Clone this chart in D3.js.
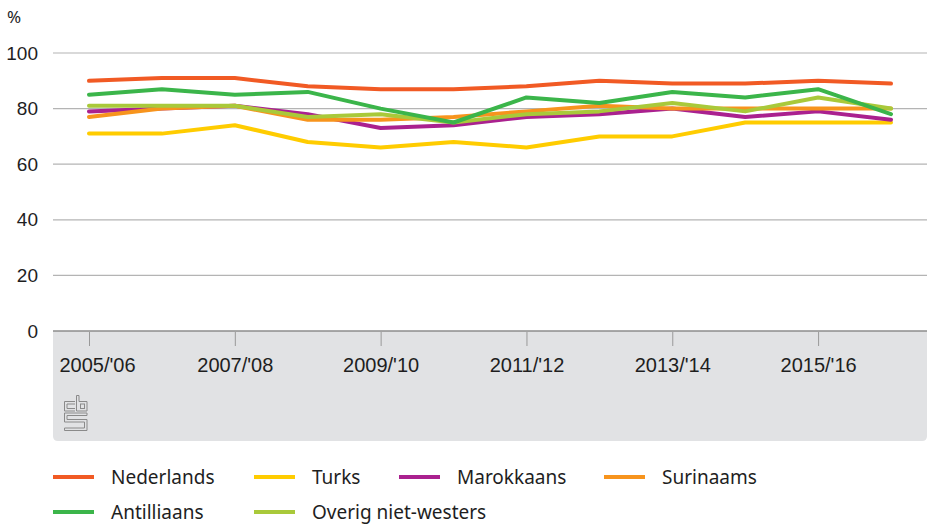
<!DOCTYPE html>
<html>
<head>
<meta charset="utf-8">
<script src="https://cdn.jsdelivr.net/npm/d3@7"></script>
<style>
  body { margin: 0; background: #fff; }
  svg { display: block; font-family: "Noto Sans", sans-serif; }
  .tick text { fill: #1e1e1e; font-size: 19px; }
  .x-axis .tick text { font-size: 20px; }
</style>
</head>
<body>
<div id="chart"></div>
<script>
// schooljaren
const years = ["2005/'06", "2006/'07", "2007/'08", "2008/'09", "2009/'10", "2010/'11",
               "2011/'12", "2012/'13", "2013/'14", "2014/'15", "2015/'16", "2016/'17"];
const xTickLabels = ["2005/'06", "2007/'08", "2009/'10", "2011/'12", "2013/'14", "2015/'16"];
const yTicks = [0, 20, 40, 60, 80, 100];

const seriesNames = ["Nederlands", "Turks", "Marokkaans", "Surinaams", "Antilliaans", "Overig niet-westers"];
const seriesColors = ["#f15a24", "#ffcc00", "#aa218f", "#f7941d", "#3bb54a", "#a9c93a"];

const nederlands  = [90, 91, 91, 88, 87, 87, 88, 90, 89, 89, 90, 89];
const turks       = [71, 71, 74, 68, 66, 68, 66, 70, 70, 75, 75, 75];
const marokkaans  = [79, 80, 81, 78, 73, 74, 77, 78, 80, 77, 79, 76];
const surinaams   = [77, 80, 81, 76, 76, 77, 79, 81, 80, 80, 80, 80];
const antilliaans = [85, 87, 85, 86, 80, 75, 84, 82, 86, 84, 87, 78];
const overig      = [81, 81, 81, 77, 78, 75, 78, 79, 82, 79, 84, 80];

const seriesValues = [nederlands, turks, marokkaans, surinaams, antilliaans, overig];
// drawing order: lime and green on top
const drawOrder = [0, 1, 2, 3, 5, 4];

const width = 928, height = 524;
const plot = { left: 53, right: 927, top: 53, bottom: 331, band: 441 };

const svg = d3.select("#chart")
  .append("svg")
    .attr("width", width)
    .attr("height", height);

const x = d3.scalePoint()
  .domain(years)
  .range([89, 891]);

const y = d3.scaleLinear()
  .domain([0, 100])
  .range([plot.bottom, plot.top]);

// grey band under the x axis, rounded bottom corners
const r = 5;
svg.append("path")
  .attr("fill", "#e1e2e4")
  .attr("d", `M${plot.left},${plot.bottom} H${plot.right} V${plot.band - r} Q${plot.right},${plot.band} ${plot.right - r},${plot.band}
              H${plot.left + r} Q${plot.left},${plot.band} ${plot.left},${plot.band - r} Z`);

// gridlines
svg.append("g")
  .selectAll("line")
  .data(yTicks)
  .join("line")
    .attr("x1", plot.left)
    .attr("x2", plot.right)
    .attr("y1", d => y(d))
    .attr("y2", d => y(d))
    .attr("stroke", d => d === 0 ? "#8c8c8c" : "#b4b4b4")
    .attr("stroke-width", d => d === 0 ? 1.5 : 1.2);

// y axis labels
const yAxis = svg.append("g")
  .attr("transform", "translate(38,0)")
  .call(d3.axisLeft(y).tickValues(yTicks).tickSize(0).tickPadding(0));
yAxis.select(".domain").remove();
yAxis.selectAll("text").attr("font-family", null).attr("font-size", null);

svg.append("text")
  .attr("x", 7)
  .attr("y", 23)
  .attr("fill", "#1e1e1e")
  .attr("font-size", 17)
  .text("%");

// x axis
const xAxis = svg.append("g")
  .attr("class", "x-axis")
  .attr("transform", `translate(0,${plot.bottom})`)
  .call(d3.axisBottom(x).tickValues(xTickLabels).tickSize(15).tickPadding(12));
xAxis.select(".domain").remove();
xAxis.selectAll("line").attr("stroke", "#999").attr("y1", 1);
xAxis.selectAll("text").attr("font-family", null).attr("font-size", null);
// first label kept inside the band
xAxis.select(".tick text")
  .attr("text-anchor", "start")
  .attr("x", plot.left + 6 - x(years[0]));

// cbs logo
const logo = svg.append("g")
  .attr("transform", "translate(64,395)")
  .attr("fill", "none")
  .attr("stroke", "#8a8a8a")
  .attr("stroke-width", 1);
logo.append("path").attr("d", "M11,6.5 H0.5 V16 H11 M11,9 H3 V13.5 H11");
logo.append("path").attr("d", "M12.5,0.5 H15 V6.5 H23 V16 H12.5 Z");
logo.append("rect").attr("x", 16.5).attr("y", 9).attr("width", 4).attr("height", 4.5);
logo.append("path").attr("d", "M0.5,18 H23 V20.5 H3 V24.5 H23 V35.5 H0.5 V33 H20.5 V27 H0.5 Z");

// lines
const line = d3.line()
  .x((d, i) => x(years[i]))
  .y(d => y(d));

svg.append("g")
  .selectAll("path")
  .data(drawOrder)
  .join("path")
    .attr("fill", "none")
    .attr("stroke", i => seriesColors[i])
    .attr("stroke-width", 4)
    .attr("stroke-linecap", "round")
    .attr("stroke-linejoin", "round")
    .attr("d", i => line(seriesValues[i]));

// legend
const legendCols = [53, 254, 399, 604];
const legendRows = [477, 512];
const legend = svg.append("g")
  .selectAll("g")
  .data(seriesNames)
  .join("g")
    .attr("transform", (d, i) => `translate(${legendCols[i % 4]},${legendRows[Math.floor(i / 4)]})`);

legend.append("line")
  .attr("x1", 0)
  .attr("x2", 41)
  .attr("stroke", (d, i) => seriesColors[i])
  .attr("stroke-width", 4);

legend.append("text")
  .attr("x", 58)
  .attr("y", 6.5)
  .attr("fill", "#1e1e1e")
  .attr("font-size", 19)
  .text(d => d);
</script>
</body>
</html>
